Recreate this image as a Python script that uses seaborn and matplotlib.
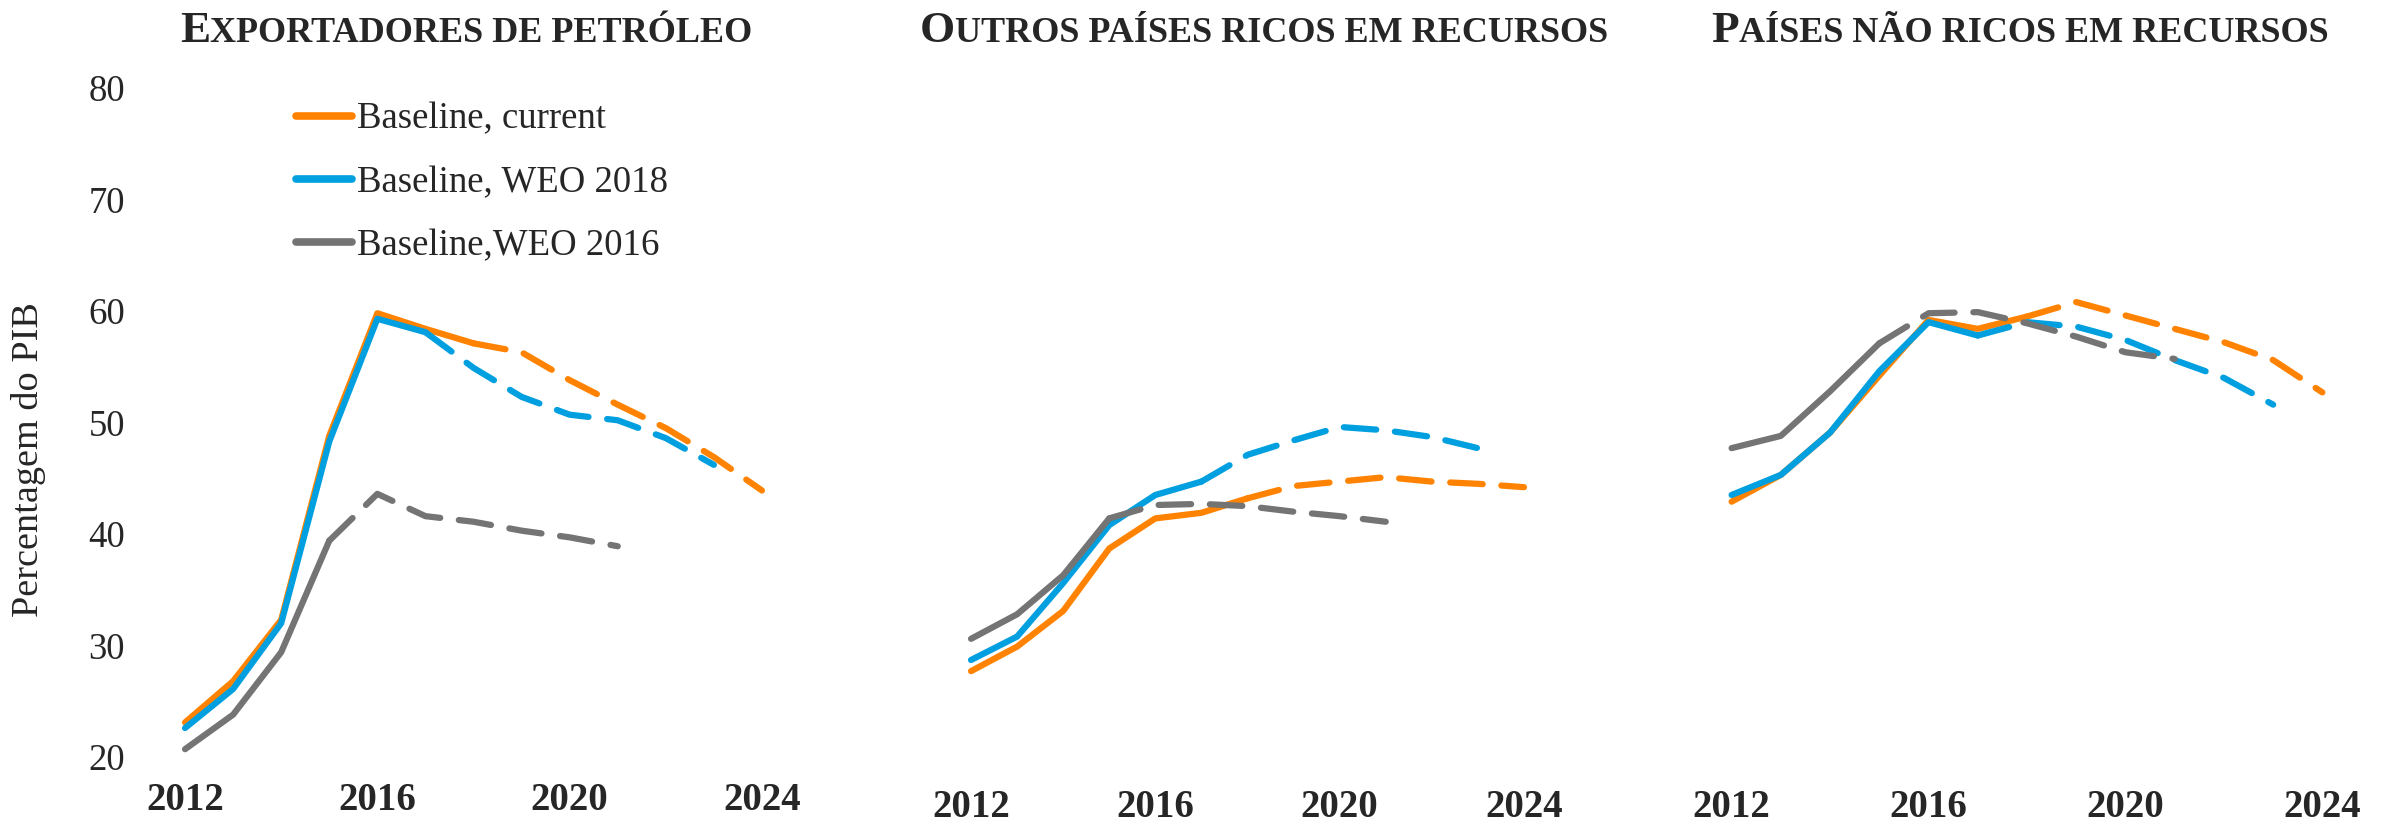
import matplotlib
matplotlib.use("Agg")
import matplotlib.pyplot as plt
import seaborn as sns
import pandas as pd

years = list(range(2012, 2025))

# Exportadores de petróleo
oil_current = [23.1, 26.8, 32.3, 48.8, 59.8, 58.4, 57.1, 56.3, 53.8, 51.6, 49.5, 46.9, 43.9]
oil_weo18 = [22.6, 26.1, 32.0, 48.3, 59.3, 58.1, 54.9, 52.3, 50.7, 50.2, 48.6, 46.2]
oil_weo16 = [20.7, 23.8, 29.4, 39.4, 43.6, 41.6, 41.1, 40.3, 39.7, 38.9]

# Outros países ricos em recursos
rich_current = [27.7, 29.9, 33.1, 38.7, 41.4, 41.9, 43.2, 44.3, 44.7, 45.1, 44.7, 44.5, 44.2]
rich_weo18 = [28.7, 30.8, 35.6, 40.8, 43.5, 44.7, 47.1, 48.4, 49.6, 49.3, 48.7, 47.7]
rich_weo16 = [30.6, 32.8, 36.3, 41.4, 42.6, 42.7, 42.5, 42.0, 41.6, 41.1]

# Países não ricos em recursos
nonrich_current = [42.9, 45.3, 49.1, 54.2, 59.2, 58.4, 59.5, 60.8, 59.6, 58.4, 57.2, 55.6, 52.7]
nonrich_weo18 = [43.5, 45.3, 49.1, 54.6, 59.0, 57.8, 59.0, 58.6, 57.4, 55.6, 54.0, 51.6]
nonrich_weo16 = [47.7, 48.8, 52.8, 57.1, 59.8, 59.9, 58.9, 57.7, 56.3, 55.7]

titles = ["Exportadores de petróleo", "Outros países ricos em recursos",
          "Países não ricos em recursos"]
labels = ["Baseline, current", "Baseline, WEO 2018", "Baseline,WEO 2016"]
colours = ["#FF8300", "#009FDF", "#747474"]
solid_until = [2018, 2017, 2015]  # last year drawn solid, dashed after

panels = [
    [oil_current, oil_weo18, oil_weo16],
    [rich_current, rich_weo18, rich_weo16],
    [nonrich_current, nonrich_weo18, nonrich_weo16],
]

sns.set_theme(style="white")
plt.rcParams['font.family'] = ['Liberation Serif', 'DejaVu Serif']

W, H = 2389, 826
fig = plt.figure(figsize=(W / 100, H / 100), dpi=100)

# axes boxes in pixels: left, right
boxes = [(161, 786), (948, 1547), (1707, 2347)]
y_bot, y_top = 757, 88
tick_pads = [18, 23, 23]
title_x = [466, 1264, 2020]

lw = 4.5
dash = (0, (5.2, 3.0))

for p, (series, (l, r)) in enumerate(zip(panels, boxes)):
    ax = fig.add_axes([l / W, 1 - y_bot / H, (r - l) / W, (y_bot - y_top) / H])
    for i, vals in enumerate(series):
        df = pd.DataFrame({'year': years[:len(vals)], 'value': vals})
        solid = df[df['year'] <= solid_until[i]]
        dashed = df[df['year'] >= solid_until[i]]
        sns.lineplot(data=solid, x='year', y='value', ax=ax, color=colours[i],
                     linewidth=lw, solid_capstyle='round', solid_joinstyle='round',
                     clip_on=False, legend=False)
        sns.lineplot(data=dashed, x='year', y='value', ax=ax, color=colours[i],
                     linewidth=lw, linestyle=dash, dash_capstyle='round',
                     dash_joinstyle='round', clip_on=False, legend=False)
    ax.set_xlim(2011.5, 2024.5)
    ax.set_ylim(20, 80)
    ax.set_xticks([2012, 2016, 2020, 2024])
    ax.set_xlabel('')
    ax.set_ylabel('')
    for s in ax.spines.values():
        s.set_visible(False)
    ax.tick_params(axis='x', length=0, pad=tick_pads[p], labelsize=28)
    for t in ax.get_xticklabels():
        t.set_fontweight('bold')
    if p == 0:
        ax.set_yticks(range(20, 81, 10))
        ax.tick_params(axis='y', length=0, pad=26, labelsize=26.5)
        ax.set_ylabel('Percentagem do PIB', fontsize=27.5)
        ax.yaxis.set_label_coords(-0.184, 0.445)
        handles = [plt.Line2D([], [], color=c, linewidth=5.5, solid_capstyle='round')
                   for c in colours]
        ax.legend(handles, labels, loc='upper left', bbox_to_anchor=(0.216, 0.979),
                  frameon=False, fontsize=26.5, handlelength=1.52, handletextpad=0.13,
                  labelspacing=0.78, borderpad=0, borderaxespad=0)
    else:
        ax.set_yticks([])
    ax.grid(False)

# small caps titles: first letter big, rest in smaller capitals
renderer = fig.canvas.get_renderer()
for xc, title in zip(title_x, titles):
    yb = 1 - 42 / H
    t1 = fig.text(0, yb, title[0], fontsize=32.5, fontweight='bold', va='baseline')
    t2 = fig.text(0, yb, title[1:].upper(), fontsize=26, fontweight='bold', va='baseline')
    w1 = t1.get_window_extent(renderer).width
    w2 = t2.get_window_extent(renderer).width
    x0 = xc - (w1 + w2) / 2
    t1.set_x(x0 / W)
    t2.set_x((x0 + w1) / W)

fig.savefig('out.png', dpi=100)
